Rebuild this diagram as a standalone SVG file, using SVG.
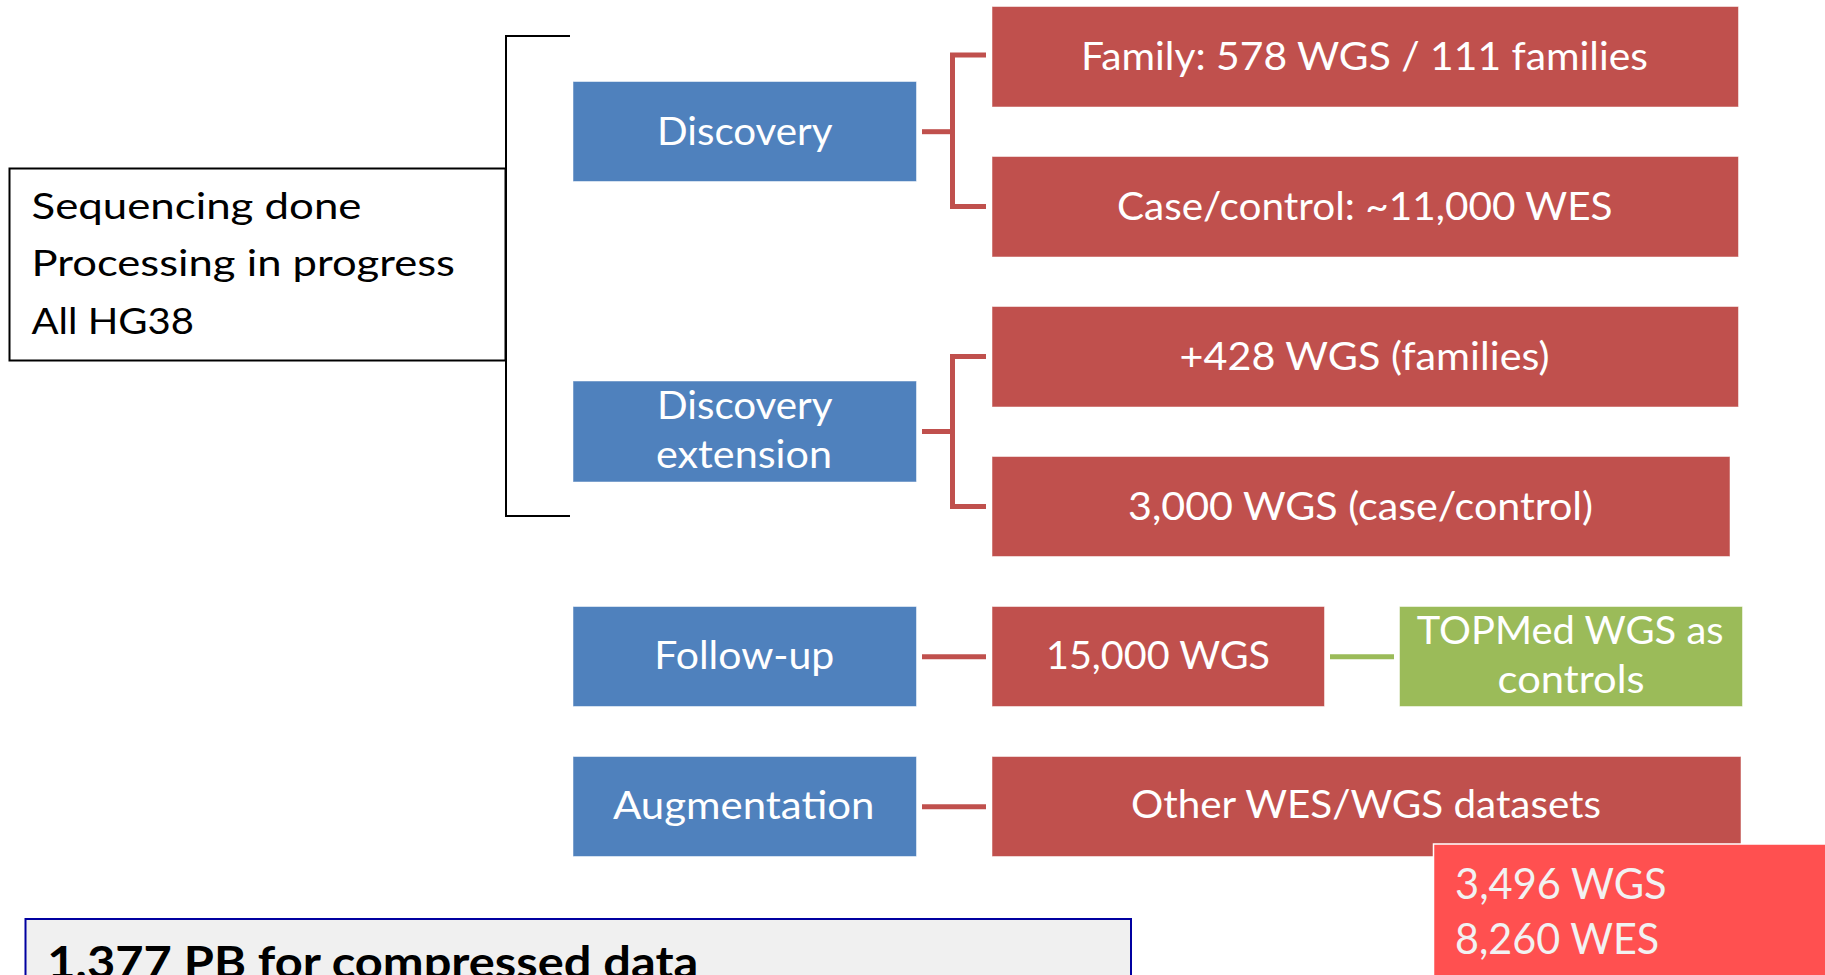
<svg xmlns="http://www.w3.org/2000/svg" width="1825" height="975" viewBox="0 0 1825 975">
<style>
  text { font-family: Lato, "Liberation Sans", sans-serif; }
  .lbl { fill: #FFFFFF; font-size: 38px; }
  .blue { fill: #4F81BD; stroke: #FFFFFF; stroke-opacity: 0.5; stroke-width: 1; }
  .red { fill: #C0504D; stroke: #FFFFFF; stroke-opacity: 0.5; stroke-width: 1; }
  .green { fill: #9BBB59; stroke: #FFFFFF; stroke-opacity: 0.5; stroke-width: 1; }
  .rc { fill: none; stroke: #C0504D; stroke-width: 5; stroke-linejoin: miter; }
  .gc { fill: none; stroke: #9BBB59; stroke-width: 5; }
  .bk { fill: none; stroke: #000000; stroke-width: 2; }
  .dark { fill: #000000; font-size: 37.5px; }
</style>
<rect width="1825" height="975" fill="#FFFFFF"/>

<g id="connectors">
  <path class="bk" d="M570,36 H506 V516 H570"/>
  <path class="rc" d="M922,131.7 H952.5"/>
  <path class="rc" d="M986,55 H952.5 V206.5 H986"/>
  <path class="rc" d="M922,431.5 H952.5"/>
  <path class="rc" d="M986,356.5 H952.5 V506.5 H986"/>
  <path class="rc" d="M922,656.7 H986"/>
  <path class="gc" d="M1330,656.7 H1394"/>
  <path class="rc" d="M922,806.7 H986"/>
</g>

<g id="status">
  <rect x="9.5" y="168.5" width="496" height="192" fill="#FFFFFF" stroke="#000000" stroke-width="2"/>
  <text class="dark" x="31.5" y="218.5" textLength="330" lengthAdjust="spacingAndGlyphs">Sequencing done</text>
  <text class="dark" x="31.5" y="276" textLength="423.5" lengthAdjust="spacingAndGlyphs">Processing in progress</text>
  <text class="dark" x="31.5" y="333.5" textLength="162.5" lengthAdjust="spacingAndGlyphs">All HG38</text>
</g>

<g id="discovery">
  <rect class="blue" x="573" y="81.5" width="343.5" height="100"/>
  <text class="lbl" x="657" y="144.6" textLength="175.6" lengthAdjust="spacingAndGlyphs">Discovery</text>
</g>
<g id="family">
  <rect class="red" x="992" y="6.5" width="746.5" height="100.5"/>
  <text class="lbl" x="1081" y="70" textLength="567" lengthAdjust="spacingAndGlyphs">Family: 578 WGS / 111 families</text>
</g>
<g id="casecontrol">
  <rect class="red" x="992" y="156.5" width="746.5" height="100.5"/>
  <text class="lbl" x="1117" y="219.5" textLength="495.5" lengthAdjust="spacingAndGlyphs">Case/control: ~11,000 WES</text>
</g>

<g id="discovery-extension">
  <rect class="blue" x="573" y="381" width="343.5" height="101"/>
  <text class="lbl" x="657" y="419.4" textLength="175.6" lengthAdjust="spacingAndGlyphs">Discovery</text>
  <text class="lbl" x="656" y="468.3" textLength="176" lengthAdjust="spacingAndGlyphs">extension</text>
</g>
<g id="wgs428">
  <rect class="red" x="992" y="306.5" width="746.5" height="100.5"/>
  <text class="lbl" x="1179.5" y="370" textLength="370" lengthAdjust="spacingAndGlyphs">+428 WGS (families)</text>
</g>
<g id="wgs3000">
  <rect class="red" x="992" y="456.5" width="738" height="100"/>
  <text class="lbl" x="1128" y="519.6" textLength="465" lengthAdjust="spacingAndGlyphs">3,000 WGS (case/control)</text>
</g>

<g id="follow-up">
  <rect class="blue" x="573" y="606.5" width="343.5" height="100"/>
  <text class="lbl" x="654.3" y="669.3" textLength="180" lengthAdjust="spacingAndGlyphs">Follow-up</text>
</g>
<g id="wgs15000">
  <rect class="red" x="992" y="606.5" width="332.5" height="100"/>
  <text class="lbl" x="1046" y="669.3" textLength="224" lengthAdjust="spacingAndGlyphs">15,000 WGS</text>
</g>
<g id="topmed">
  <rect class="green" x="1399.5" y="606.5" width="343" height="100"/>
  <text class="lbl" x="1416.8" y="644" textLength="306.8" lengthAdjust="spacingAndGlyphs">TOPMed WGS as</text>
  <text class="lbl" x="1497.6" y="693.3" textLength="147" lengthAdjust="spacingAndGlyphs">controls</text>
</g>

<g id="augmentation">
  <rect class="blue" x="573" y="756.5" width="343.5" height="100"/>
  <text class="lbl" x="613" y="819.3" textLength="261.4" lengthAdjust="spacingAndGlyphs">Augmentation</text>
</g>
<g id="other">
  <rect class="red" x="992" y="756.5" width="749" height="100"/>
  <text class="lbl" x="1131" y="818.3" textLength="470" lengthAdjust="spacingAndGlyphs">Other WES/WGS datasets</text>
</g>

<g id="counts">
  <rect x="1433.5" y="844" width="400" height="140" fill="#FF5050" stroke="#FFFFFF" stroke-width="1.5"/>
  <text x="1455" y="899" fill="#F2F2F2" font-size="42" textLength="211.7" lengthAdjust="spacingAndGlyphs">3,496 WGS</text>
  <text x="1455" y="954" fill="#F2F2F2" font-size="42" textLength="204.3" lengthAdjust="spacingAndGlyphs">8,260 WES</text>
</g>

<g id="storage">
  <rect x="25.5" y="919" width="1105.5" height="80" fill="#F0F0F0" stroke="#0000A0" stroke-width="2"/>
  <text x="47.3" y="978" fill="#000000" font-size="44.5" font-weight="bold" textLength="651" lengthAdjust="spacingAndGlyphs">1,377 PB for compressed data</text>
</g>
</svg>
